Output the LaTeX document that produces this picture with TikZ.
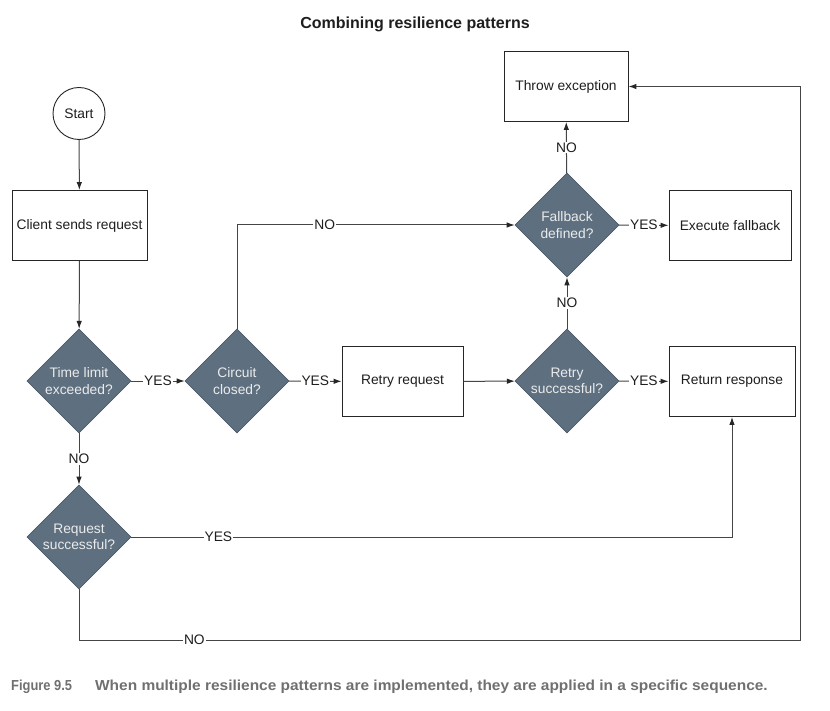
\documentclass[tikz,border=0pt]{standalone}
\usepackage{fontspec}
\setmainfont{Liberation Sans}
\usetikzlibrary{shapes.geometric,arrows.meta}
\definecolor{dia}{HTML}{5E7080}
\definecolor{diaedge}{HTML}{4A5866}
\definecolor{ln}{HTML}{454545}
\definecolor{capgray}{HTML}{707070}
\definecolor{txt}{HTML}{1E1E1E}
\begin{document}
\begin{tikzpicture}[x=1pt,y=-1pt,
  every node/.style={font=\fontsize{13.8}{16.5}\selectfont, text=txt},
  box/.style={draw=black!85, line width=0.9pt, minimum height=70pt, align=center, inner sep=0pt},
  decision/.style={diamond, aspect=1, fill=dia, draw=diaedge, line width=0.6pt,
    minimum width=104pt, minimum height=104pt, inner sep=-12pt, align=center, text=white!92!black},
  conn/.style={draw=ln, line width=1pt},
  arr/.style={conn, -{Latex[length=8pt,width=5.5pt,color=black!85]}},
  lab/.style={fill=white, inner sep=1pt}
]
\useasboundingbox[fill=white] (0,0) rectangle (830,711);

\node[font=\bfseries\fontsize{16}{18}\selectfont] (title) at (415,24) {Combining resilience patterns};

\node[circle, draw=black!85, line width=0.9pt, minimum size=52pt, inner sep=0pt] (start) at (79,113.5) {Start};
\node[box, minimum width=135pt] (client) at (79.5,225.5) {Client sends request};
\node[decision] (time) at (79,381) {Time limit\\exceeded?};
\node[decision] (circ) at (237,381) {Circuit\\closed?};
\node[box, minimum width=121pt] (retry) at (402.5,381.5) {Retry request};
\node[decision] (rsucc) at (567,381) {Retry\\successful?};
\node[box, minimum width=126pt] (ret) at (732,381.5) {Return response};
\node[decision] (fb) at (567,225) {Fallback\\defined?};
\node[box, minimum width=122pt] (exec) at (730,225.5) {Execute fallback};
\node[box, minimum width=124pt] (throw) at (566,86.5) {Throw exception};
\node[decision] (reqs) at (79,537) {Request\\successful?};

\coordinate (corner) at (800,640);

\draw[arr] (start) -- (client);
\draw[arr] (client) -- (time);
\draw[arr] (time) -- node[lab] {YES} (circ);
\draw[arr] (circ) -- node[lab] {YES} (retry);
\draw[arr] (retry) -- (rsucc);
\draw[arr] (rsucc) -- node[lab] {YES} (ret);
\draw[arr] (rsucc) -- node[lab] {NO} (fb);
\draw[arr] (fb) -- node[lab] {YES} (exec);
\draw[arr] (fb) -- node[lab] {NO} (throw);
\draw[arr] (time) -- node[lab] {NO} (reqs);
\draw[arr] (circ.north) |- node[lab, pos=0.658] {NO} (fb.west);
\draw[arr] (reqs.east) -| node[lab, pos=0.0725] {YES} (ret.south);
\draw[arr] (reqs.south) |- node[lab, pos=0.58] {NO} (corner) |- (throw.east);

\node[anchor=west, inner sep=0pt, text=capgray, font=\bfseries\fontsize{14.5}{17}\selectfont] (caption) at (11,687)
  {\scalebox{0.89}[1]{Figure 9.5}\hspace{23pt}\scalebox{1.066}[1]{When multiple resilience patterns are implemented, they are applied in a specific sequence.}};
\end{tikzpicture}
\end{document}
